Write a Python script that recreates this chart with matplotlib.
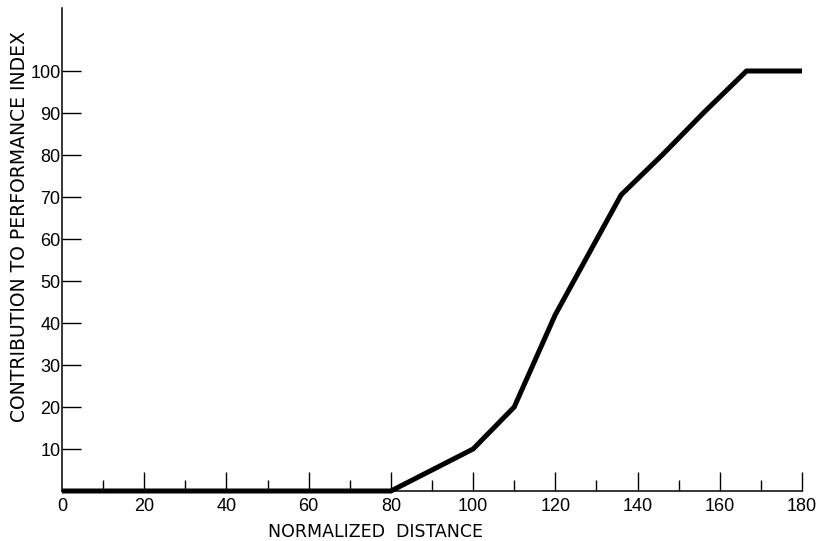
#!/usr/bin/env python3
"""Contribution to performance index vs normalized distance."""

import matplotlib

matplotlib.use("Agg")
import matplotlib.pyplot as plt
from matplotlib.ticker import MultipleLocator

# curve
distance = [0, 80, 90, 100, 110, 120, 136, 146, 156, 166.5, 180]
contribution = [0, 0, 5, 10, 20, 42, 70.5, 80, 90, 100, 100]

x_major = list(range(0, 181, 20))
y_major = list(range(10, 101, 10))

plt.rcParams["font.family"] = ["DejaVu Sans"]

fig = plt.figure(figsize=(8.19, 5.41), dpi=100)
ax = fig.add_axes([62 / 819, 50 / 541, (802 - 62) / 819, 483 / 541])

ax.plot(distance, contribution, color="black", linewidth=3.6,
        solid_joinstyle="miter", solid_capstyle="butt", clip_on=False, zorder=3)

ax.set_xlim(0, 180)
ax.set_ylim(0, 115)
ax.spines["top"].set_visible(False)
ax.spines["right"].set_visible(False)
for side in ("left", "bottom"):
    ax.spines[side].set_linewidth(1.1)

ax.set_xticks(x_major)
ax.xaxis.set_minor_locator(MultipleLocator(10))
ax.set_yticks(y_major)
ax.tick_params(axis="x", which="major", direction="in", length=14, width=1.0,
               pad=5, labelsize=13)
ax.tick_params(axis="x", which="minor", direction="in", length=8, width=1.0)
ax.tick_params(axis="y", which="major", direction="in", length=14, width=1.0,
               pad=1, labelsize=13)
for lab in ax.get_xticklabels() + ax.get_yticklabels():
    lab.set_fontfamily(["Liberation Sans", "DejaVu Sans"])
# no tick mark at the origin, only its label
ax.xaxis.get_major_ticks()[0].tick1line.set_visible(False)

ax.set_xlabel("NORMALIZED  DISTANCE", fontsize=12.5)
ax.xaxis.set_label_coords(0.423, -0.066)
ax.set_ylabel("CONTRIBUTION TO PERFORMANCE INDEX", fontsize=13.5)
ax.yaxis.set_label_coords(-0.0446, 0.547)

fig.savefig("out.png", dpi=100)
plt.close(fig)
